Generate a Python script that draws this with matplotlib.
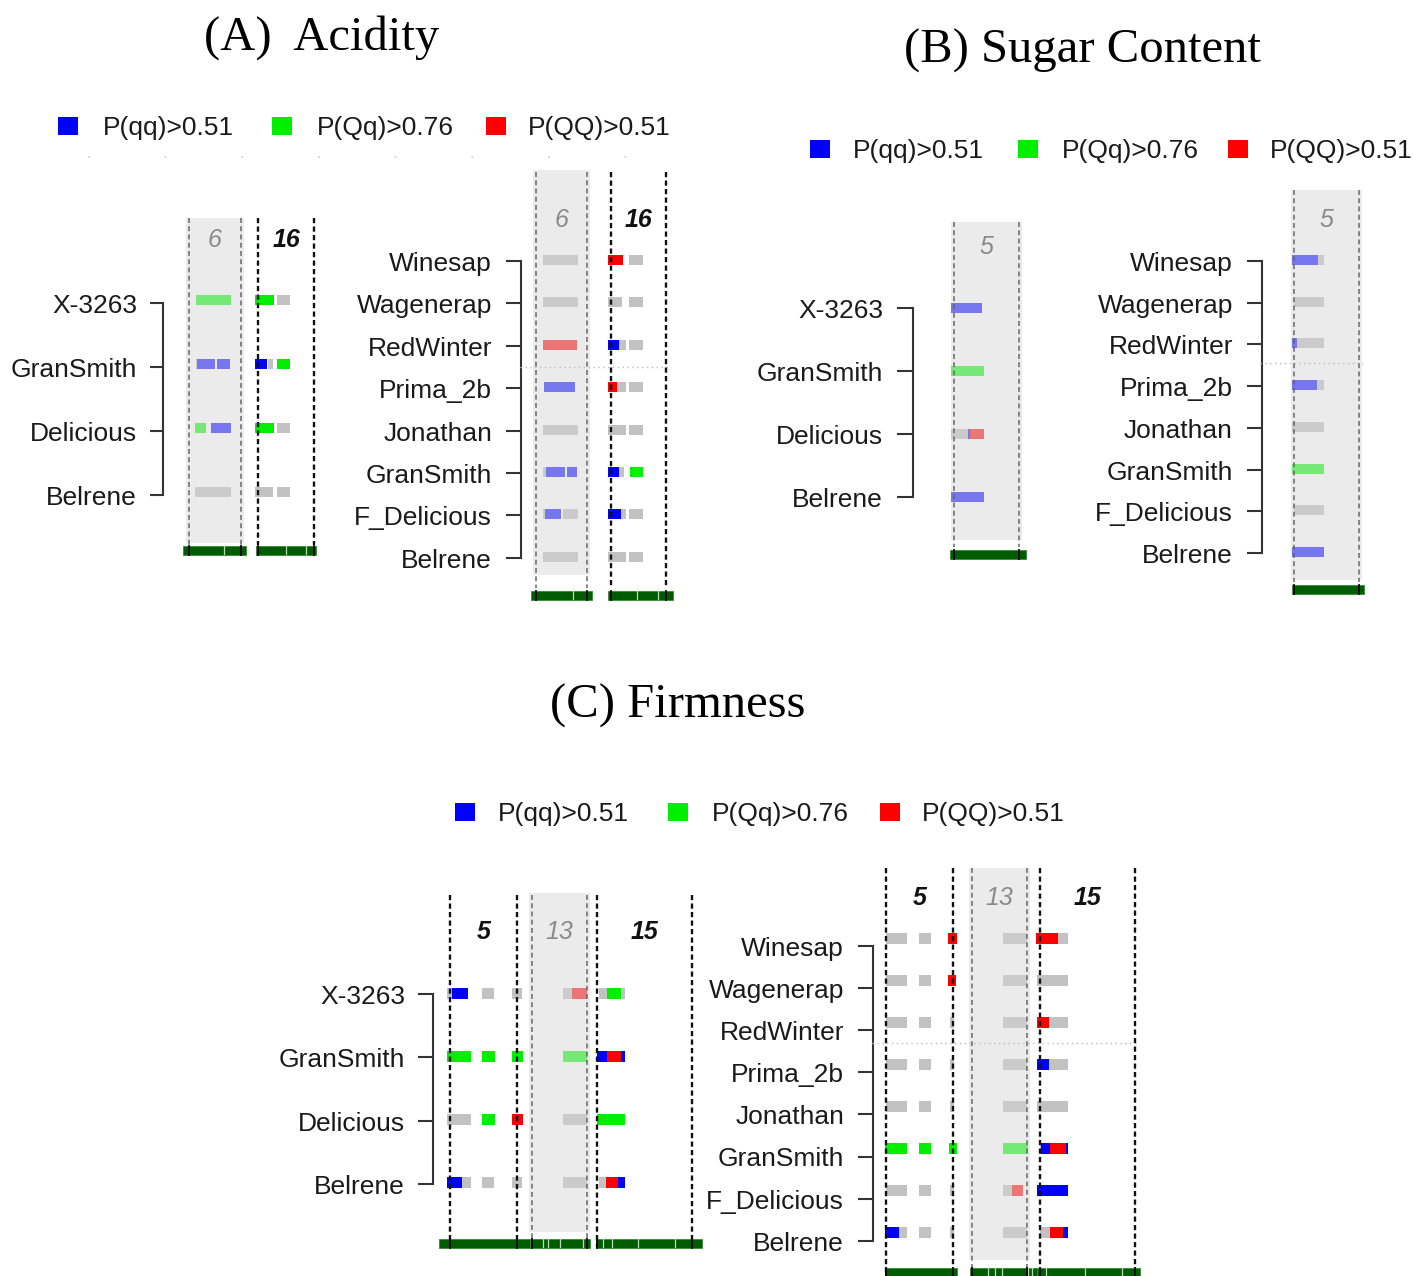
import matplotlib
matplotlib.use('Agg')
import matplotlib.pyplot as plt
from matplotlib.patches import Rectangle

# cultivars, top to bottom
SMALL_SET = ['X-3263', 'GranSmith', 'Delicious', 'Belrene']
BIG_SET = ['Winesap', 'Wagenerap', 'RedWinter', 'Prima_2b', 'Jonathan',
           'GranSmith', 'F_Delicious', 'Belrene']

LEGEND_LABELS = ['P(qq)>0.51', 'P(Qq)>0.76', 'P(QQ)>0.51']
LEGEND_GENO = ['qq', 'Qq', 'QQ']

# chromosome groups shown per trait, and which one is shaded
A_CHROMS = ['6', '16']
B_CHROMS = ['5']
C_CHROMS = ['5', '13', '15']
SHADED = {'A': ['6'], 'B': ['5'], 'C': ['13']}

# haplotype segments (start, end, genotype) along each linkage group, one list per cultivar
A_SMALL = {
    '6': [[(7, 42, 'Qq')],
          [(7, 8, 'na'), (8, 26, 'qq'), (28, 41, 'qq')],
          [(6, 17, 'Qq'), (22, 42, 'qq')],
          [(6, 42, 'na')]],
    '16': [[(-3, 16, 'Qq'), (19, 32, 'na')],
           [(-3, 9, 'qq'), (10, 15, 'na'), (19, 32, 'Qq')],
           [(-3, 16, 'Qq'), (19, 32, 'na')],
           [(-3, 15, 'na'), (19, 32, 'na')]],
}
A_BIG = {
    '6': [[(7, 42, 'na')],
          [(7, 42, 'na')],
          [(7, 41, 'QQ')],
          [(8, 39, 'qq')],
          [(7, 42, 'na')],
          [(7, 10, 'na'), (10, 29, 'qq'), (31, 41, 'qq')],
          [(7, 9, 'na'), (9, 25, 'qq'), (27, 42, 'na')],
          [(7, 42, 'na')]],
    '16': [[(-3, 12, 'QQ'), (18, 32, 'na')],
           [(-3, 11, 'na'), (18, 32, 'na')],
           [(-3, 8, 'qq'), (8, 15, 'na'), (18, 32, 'na')],
           [(-3, 6, 'QQ'), (6, 15, 'na'), (18, 32, 'na')],
           [(-3, 15, 'na'), (18, 32, 'na')],
           [(-3, 8, 'qq'), (8, 13, 'na'), (19, 32, 'Qq')],
           [(-3, 10, 'qq'), (10, 15, 'na'), (18, 32, 'na')],
           [(-3, 15, 'na'), (18, 32, 'na')]],
}
B_SMALL = {
    '5': [[(-3, 28, 'qq')],
          [(-3, 30, 'Qq')],
          [(-3, 14, 'na'), (14, 16, 'qq'), (16, 30, 'QQ')],
          [(-3, 30, 'qq')]],
}
B_BIG = {
    '5': [[(-2, 24, 'qq'), (24, 30, 'na')],
          [(0, 30, 'na')],
          [(-2, 3, 'qq'), (3, 30, 'na')],
          [(-2, 23, 'qq'), (23, 30, 'na')],
          [(-2, 30, 'na')],
          [(-2, 30, 'Qq')],
          [(0, 30, 'na')],
          [(-2, 30, 'qq')]],
}
C_SMALL = {
    '5': [[(-3, 2, 'na'), (2, 18, 'qq'), (32, 44, 'na'), (62, 72, 'na')],
          [(-3, 21, 'Qq'), (32, 45, 'Qq'), (62, 73, 'Qq')],
          [(-3, 21, 'na'), (32, 45, 'Qq'), (62, 73, 'QQ')],
          [(-3, 12, 'qq'), (12, 21, 'na'), (32, 44, 'na'), (62, 72, 'na')]],
    '13': [[(31, 40, 'na'), (40, 55, 'QQ')],
           [(31, 55, 'Qq')],
           [(31, 55, 'na')],
           [(31, 55, 'na')]],
    '15': [[(2, 10, 'na'), (10, 24, 'Qq'), (24, 28, 'na')],
           [(0, 10, 'qq'), (10, 24, 'QQ'), (24, 28, 'qq')],
           [(0, 28, 'Qq')],
           [(2, 9, 'na'), (9, 21, 'QQ'), (21, 28, 'qq')]],
}
C_BIG = {
    '5': [[(0, 21, 'na'), (33, 45, 'na'), (62, 71, 'QQ')],
          [(0, 21, 'na'), (33, 45, 'na'), (62, 70, 'QQ')],
          [(0, 21, 'na'), (33, 45, 'na'), (64, 68, 'na')],
          [(0, 21, 'na'), (33, 45, 'na'), (64, 68, 'na')],
          [(0, 21, 'na'), (33, 45, 'na'), (64, 68, 'na')],
          [(-1, 21, 'Qq'), (33, 45, 'Qq'), (63, 71, 'Qq')],
          [(0, 21, 'na'), (33, 45, 'na'), (64, 68, 'na')],
          [(-1, 13, 'qq'), (13, 21, 'na'), (33, 45, 'na'), (64, 68, 'na')]],
    '13': [[(31, 55, 'na')],
           [(31, 55, 'na')],
           [(31, 55, 'na')],
           [(31, 55, 'na')],
           [(31, 55, 'na')],
           [(31, 56, 'Qq')],
           [(31, 40, 'na'), (40, 51, 'QQ')],
           [(31, 55, 'na')]],
    '15': [[(-4, 18, 'QQ'), (18, 28, 'na')],
           [(-3, 28, 'na')],
           [(-3, 9, 'QQ'), (9, 28, 'na')],
           [(-3, 9, 'qq'), (9, 28, 'na')],
           [(-3, 28, 'na')],
           [(0, 1, 'na'), (1, 10, 'qq'), (10, 26, 'QQ'), (26, 28, 'qq')],
           [(-3, 28, 'qq')],
           [(0, 10, 'na'), (10, 23, 'QQ'), (23, 28, 'qq')]],
}

FULL = {'qq': '#0000ff', 'Qq': '#00ee00', 'QQ': '#ff0000', 'na': '#c2c2c2'}
PALE = {'qq': '#7676ee', 'Qq': '#76e876', 'QQ': '#ec7676', 'na': '#cbcbcb'}
SANS = 'Liberation Sans'
SERIF = 'Liberation Serif'
TXT = '#1a1a1a'


def draw_block(ax, lines, chroms, segs, shaded, lay):
    n = len(lines)
    for i, name in enumerate(lines):
        y = lay['row0'] + i * lay['dy']
        ax.text(lay['lab_x'], y + 3, name, ha='right', va='center', fontsize=19,
                family=SANS, color=TXT)
        ax.plot([lay['tick_x0'], lay['br_x']], [y, y], color='#333333', lw=1.5,
                solid_capstyle='butt')
    ax.plot([lay['br_x'], lay['br_x']], [lay['row0'], lay['row0'] + (n - 1) * lay['dy']],
            color='#333333', lw=1.5)
    for j, ch in enumerate(chroms):
        x0 = lay['col_x'][j]
        L = lay['lens'][j]
        sh = ch in shaded
        if sh:
            ax.add_patch(Rectangle((x0 - 3, lay['shade'][0]), L + 6,
                                   lay['shade'][1] - lay['shade'][0],
                                   color='#ebebeb', lw=0, zorder=0))
            dcol, dlw, dls = '#666666', 1.1, (0, (3.2, 2.2))
            ax.text(x0 + L / 2, lay['num_y'], ch, ha='center', va='center',
                    fontsize=18, style='italic', color='#8a8a8a', family=SANS)
        else:
            dcol, dlw, dls = '#111111', 1.7, (0, (2.2, 1.4))
            ax.text(x0 + L / 2, lay['num_y'], ch, ha='center', va='center',
                    fontsize=18, style='italic', weight='bold', color='#111111',
                    family=SANS)
        for xx in (x0, x0 + L):
            ax.plot([xx, xx], lay['dash'], color=dcol, lw=dlw, ls=dls, zorder=4)
        pal = PALE if sh else FULL
        bh = lay['bar_h']
        for i, row in enumerate(segs[ch]):
            y = lay['row0'] + i * lay['dy'] + lay['bar_off']
            for a, b, g in row:
                ax.add_patch(Rectangle((x0 + a, y - bh / 2), b - a, bh,
                                       color=pal[g], lw=0, zorder=3))
        ta, tb = lay['track_span'][j]
        ty = lay['track_y']
        ax.add_patch(Rectangle((x0 + ta, ty - 4.5), tb - ta, 9, facecolor='#005c00',
                               edgecolor='#2f8f2f', lw=0.6, zorder=5))
        for t in lay['track_ticks'][j]:
            ax.plot([x0 + t, x0 + t], [ty - 4, ty + 4], color='#b8d8b8', lw=0.9, zorder=6)
        for xx in (x0, x0 + L):
            if ta <= xx - x0 <= tb:
                ax.plot([xx, xx], [ty - 4.5, ty + 4.5], color='black', lw=1.3, zorder=6)
    if lay['hline'] is not None:
        hy, hx0, hx1 = lay['hline']
        ax.plot([hx0, hx1], [hy, hy], color='#bbbbbb', lw=1, ls=(0, (1, 2.5)), zorder=2)


def draw_legend(ax, sq_x, txt_x, y):
    for sx, tx, g, lab in zip(sq_x, txt_x, LEGEND_GENO, LEGEND_LABELS):
        ax.add_patch(Rectangle((sx - 10, y - 9), 20, 18, color=FULL[g], lw=0))
        ax.text(tx, y + 2, lab, ha='left', va='center', fontsize=19, family=SANS,
                color=TXT)


fig = plt.figure(figsize=(14.13, 12.76), dpi=100)
ax = fig.add_axes([0, 0, 1, 1])
ax.set_xlim(0, 1413)
ax.set_ylim(1276, 0)
ax.axis('off')

# titles
ax.text(322, 38, '(A)  Acidity', ha='center', va='center', fontsize=35, family=SERIF, color='black')
ax.text(1082, 51, '(B) Sugar Content', ha='center', va='center', fontsize=35, family=SERIF, color='black')
ax.text(678, 706, '(C) Firmness', ha='center', va='center', fontsize=35, family=SERIF, color='black')

draw_legend(ax, [68, 282, 496], [103, 317, 528], 126)
draw_legend(ax, [820, 1028, 1238], [853, 1062, 1270], 149)
draw_legend(ax, [465, 678, 890], [498, 712, 922], 812)
ax.plot([88, 665], [157, 157], color='#cccccc', lw=1.2, ls=(0, (1, 45)))

lay_a_small = dict(lab_x=137, br_x=163, tick_x0=150, row0=303, dy=64, bar_off=-3,
                   col_x=[189, 258], lens=[52, 56], dash=(218, 545), shade=(218, 543),
                   num_y=240, track_y=550, track_span=[(-6, 57), (-2, 58)],
                   track_ticks=[[35], [28, 48]], hline=None, bar_h=10)
lay_a_big = dict(lab_x=492, br_x=521, tick_x0=506, row0=261, dy=42.4, bar_off=-1,
                 col_x=[536, 611], lens=[51, 55], dash=(172, 588), shade=(170, 575),
                 num_y=220, track_y=595, track_span=[(-5, 56), (-3, 62)],
                 track_ticks=[[37], [26, 47]], hline=(367, 520, 668), bar_h=10)
lay_b_small = dict(lab_x=883, br_x=913, tick_x0=897, row0=308, dy=63, bar_off=0,
                   col_x=[954], lens=[65], dash=(222, 547), shade=(222, 540),
                   num_y=247, track_y=554, track_span=[(-4, 72)],
                   track_ticks=[[]], hline=None, bar_h=10)
lay_b_big = dict(lab_x=1233, br_x=1262, tick_x0=1247, row0=261, dy=41.7, bar_off=-1,
                 col_x=[1294], lens=[65], dash=(190, 582), shade=(190, 580),
                 num_y=220, track_y=589, track_span=[(-2, 70)],
                 track_ticks=[[]], hline=(363, 1260, 1363), bar_h=10)
lay_c_small = dict(lab_x=405, br_x=433, tick_x0=418, row0=994, dy=63.3, bar_off=-1,
                   col_x=[450, 532, 597], lens=[67, 55, 95], dash=(895, 1247),
                   shade=(893, 1232), num_y=932, track_y=1243,
                   track_span=[(-11, 80), (-2, 58), (0, 105)],
                   track_ticks=[[], [11, 16, 28, 51], [6, 15, 41, 78]], hline=None, bar_h=11)
lay_c_big = dict(lab_x=844, br_x=873, tick_x0=858, row0=946, dy=42.1, bar_off=-8,
                 col_x=[886, 972, 1040], lens=[67, 55, 95], dash=(868, 1276),
                 shade=(868, 1260), num_y=898, track_y=1272,
                 track_span=[(-1, 71), (-2, 65), (-3, 100)],
                 track_ticks=[[], [16, 23, 30, 56, 60], [6, 45, 82]],
                 hline=(1043, 872, 1138), bar_h=11)

draw_block(ax, SMALL_SET, A_CHROMS, A_SMALL, SHADED['A'], lay_a_small)
draw_block(ax, BIG_SET, A_CHROMS, A_BIG, SHADED['A'], lay_a_big)
draw_block(ax, SMALL_SET, B_CHROMS, B_SMALL, SHADED['B'], lay_b_small)
draw_block(ax, BIG_SET, B_CHROMS, B_BIG, SHADED['B'], lay_b_big)
draw_block(ax, SMALL_SET, C_CHROMS, C_SMALL, SHADED['C'], lay_c_small)
draw_block(ax, BIG_SET, C_CHROMS, C_BIG, SHADED['C'], lay_c_big)

fig.savefig('out.png', dpi=100)
